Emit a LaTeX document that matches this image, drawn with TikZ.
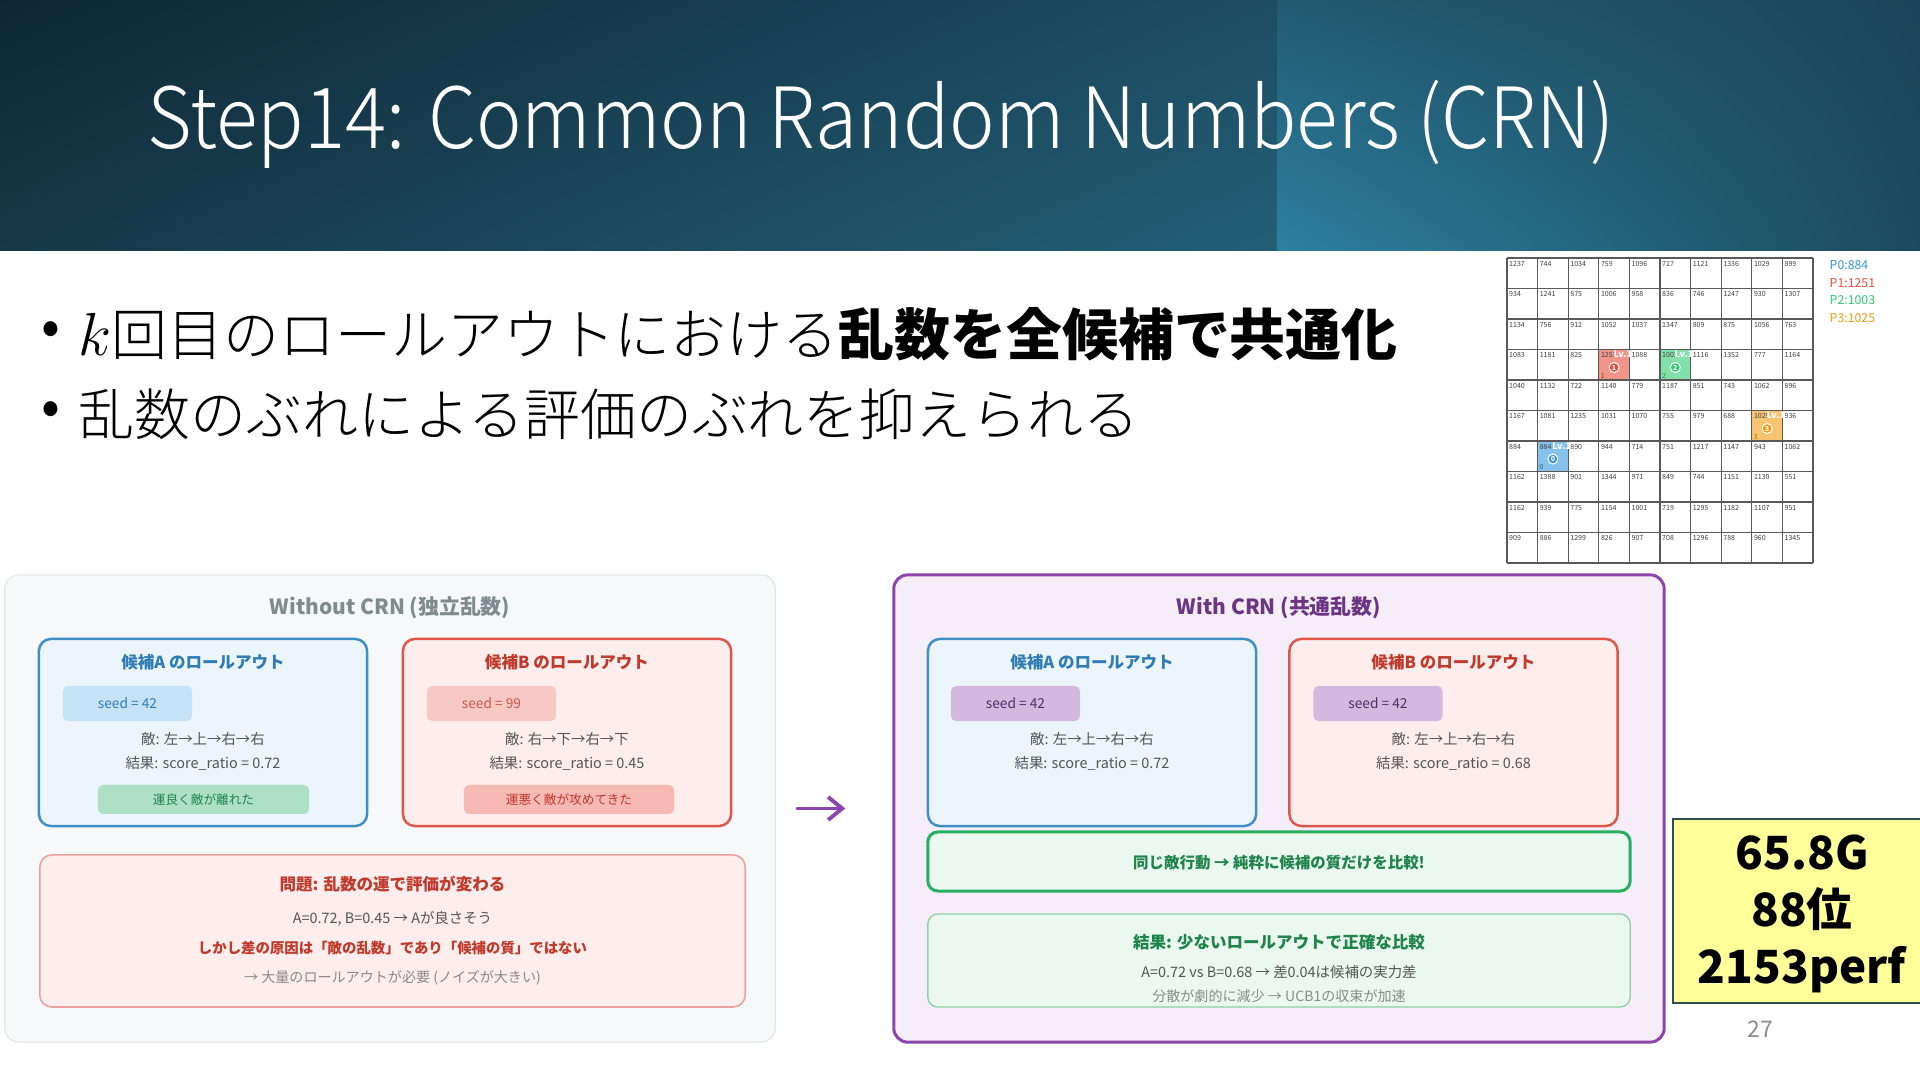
\documentclass[tikz,border=0pt]{standalone}
\usepackage{fontspec}
\setmainfont{Noto Sans CJK JP}
\IfFontExistsTF{Noto Sans CJK JP Light}
  {\newfontfamily\lightfont{Noto Sans CJK JP Light}
   \newfontfamily\titlefont[FakeStretch=0.91]{Noto Sans CJK JP Light}}
  {\newfontfamily\lightfont{Noto Sans CJK JP}
   \newfontfamily\titlefont[FakeStretch=0.91]{Noto Sans CJK JP}}
\usetikzlibrary{arrows.meta,positioning,shadings}
\definecolor{HeadTL}{HTML}{0E2735}
\definecolor{HeadBL}{HTML}{163848}
\definecolor{HeadTM}{HTML}{1D4D63}
\definecolor{HeadBM}{HTML}{235F78}
\definecolor{HeadRTL}{HTML}{235A72}
\definecolor{HeadRBL}{HTML}{2C81A1}
\definecolor{HeadRTR}{HTML}{1A4557}
\definecolor{HeadRBR}{HTML}{1C4A5D}
\definecolor{PanelGray}{HTML}{F6F8FA}
\definecolor{PanelEdge}{HTML}{E1E5E9}
\definecolor{PanelLilac}{HTML}{F5EEF8}
\definecolor{CrnPurple}{HTML}{8E44AD}
\definecolor{CrnPurpleDark}{HTML}{6C3483}
\definecolor{CandBlue}{HTML}{3D8FC6}
\definecolor{CandBlueText}{HTML}{2E7BB5}
\definecolor{CandBlueFill}{HTML}{EBF5FB}
\definecolor{CandRed}{HTML}{E0564A}
\definecolor{CandRedText}{HTML}{C0392B}
\definecolor{CandRedFill}{HTML}{FDEDEC}
\definecolor{SeedBlue}{HTML}{C6E2F6}
\definecolor{SeedRed}{HTML}{F8C9C4}
\definecolor{SeedLilac}{HTML}{D5B8E0}
\definecolor{LuckGreen}{HTML}{AEE0C6}
\definecolor{LuckRed}{HTML}{F6B9B3}
\definecolor{OkGreen}{HTML}{1E8449}
\definecolor{OkGreenEdge}{HTML}{27AE60}
\definecolor{OkGreenSoft}{HTML}{8FD0A8}
\definecolor{OkGreenFill}{HTML}{EAF8EF}
\definecolor{ProbEdge}{HTML}{EBA29B}
\definecolor{BodyGray}{HTML}{555555}
\definecolor{NoteGray}{HTML}{8A8A8A}
\definecolor{TitleGray}{HTML}{7F8C8D}
\definecolor{ScoreYellow}{HTML}{FFFF99}
\definecolor{ScoreEdge}{HTML}{2F4F4F}
\definecolor{PBlue}{HTML}{3498DB}
\definecolor{PRed}{HTML}{E74C3C}
\definecolor{PGreen}{HTML}{2ECC71}
\definecolor{POrange}{HTML}{F39C12}
\tikzset{
  panelbox/.style={rounded corners=0.14cm, minimum width=7.7cm, minimum height=4.67cm},
  candbox/.style={rounded corners=0.12cm, line width=0.7pt, minimum width=3.28cm, minimum height=1.87cm},
  seedbox/.style={rounded corners=0.05cm, minimum width=1.29cm, minimum height=0.35cm, inner sep=0pt,
    font=\fontsize{3.9}{4.5}\selectfont},
  pillbox/.style={rounded corners=0.05cm, minimum height=0.29cm, inner sep=0pt,
    font=\fontsize{3.6}{4.3}\selectfont},
  bodytext/.style={inner sep=0pt, text=BodyGray, font=\fontsize{4.1}{5}\selectfont},
  notetext/.style={inner sep=0pt, text=NoteGray, font=\fontsize{4.0}{5}\selectfont},
  boxtitle/.style={inner sep=0pt, font=\bfseries\fontsize{4.7}{5.6}\selectfont},
  paneltitle/.style={inner sep=0pt, font=\bfseries\fontsize{5.95}{7.1}\selectfont},
  gridnum/.style={anchor=north west, inner sep=0pt, text=black!75, font=\fontsize{2}{2.4}\selectfont},
  legend/.style={anchor=west, inner sep=0pt, font=\fontsize{3.5}{4.2}\selectfont},
}

\begin{document}
\begin{tikzpicture}[x=0.01cm, y=-0.01cm]
    \useasboundingbox (0,0) rectangle (1920,1080);
    \fill[white] (0,0) rectangle (1920,1080);
    % header band
    \shade[upper left=HeadTL, lower left=HeadBL, upper right=HeadTM, lower right=HeadBM]
        (0,0) rectangle (1277,251);
    \shade[upper left=HeadRTL, lower left=HeadRBL, upper right=HeadRTR, lower right=HeadRBR]
        (1277,0) rectangle (1920,251);
    \node[anchor=base west, inner sep=0pt, text=white, font=\titlefont\fontsize{24}{29}\selectfont]
        (title) at (147,149) {Step14: Common Random Numbers (CRN)};

    % bullets
    \node[inner sep=0pt, font=\fontsize{15.8}{19}\selectfont] (bulA) at (51,334) {•};
    \node[anchor=west, inner sep=0pt, font=\lightfont\fontsize{15.9}{19}\selectfont] (lineA) at (78,334)
        {$k$回目のロールアウトにおける{\rmfamily\bfseries 乱数を全候補で共通化}};
    \node[inner sep=0pt, font=\fontsize{15.8}{19}\selectfont] (bulB) at (51,414) {•};
    \node[anchor=west, inner sep=0pt, font=\lightfont\fontsize{15.9}{19}\selectfont] (lineB) at (78,414)
        {乱数のぶれによる評価のぶれを抑えられる};

    % board snapshot
    \foreach \c/\r/\col in {3/3/PRed, 5/3/PGreen, 8/5/POrange, 1/6/PBlue} {
        \fill[fill=\col!60] ({1507+30.6*\c},{258+30.5*\r}) rectangle ++(30.6,30.5);
    }
    \foreach \i in {0,...,10} {
        \draw[black!65, line width=0.3pt] ({1507+30.6*\i},258) -- ++(0,305);
        \draw[black!65, line width=0.3pt] (1507,{258+30.5*\i}) -- ++(306,0);
    }
    \foreach \r/\vals in {0/{1237,744,1034,759,1096,717,1121,1336,1029,899},
                          1/{934,1241,875,1006,958,836,746,1247,930,1307},
                          2/{1134,756,912,1052,1037,1347,809,875,1056,763},
                          3/{1083,1181,825,1251,1088,1003,1116,1352,777,1164},
                          4/{1040,1132,722,1140,779,1187,851,743,1062,896},
                          5/{1167,1081,1235,1031,1070,755,979,688,1025,936},
                          6/{884,884,890,944,714,751,1217,1147,943,1062},
                          7/{1162,1388,901,1344,971,849,744,1151,1130,551},
                          8/{1162,939,775,1154,1001,719,1295,1182,1107,951},
                          9/{909,886,1299,826,907,708,1296,788,960,1345}} {
        \foreach \v [count=\c from 0] in \vals {
            \node[gridnum] (n\r-\c) at ({1507+30.6*\c+1.5},{258+30.5*\r+2.5}) {\v};
        }
    }
    \foreach \c/\r/\p/\col in {3/3/1/PRed, 5/3/2/PGreen, 8/5/3/POrange, 1/6/0/PBlue} {
        \node[circle, fill=\col, draw=white, line width=0.3pt, inner sep=0pt, minimum size=0.1cm,
            text=white, font=\bfseries\fontsize{2}{2}\selectfont] (tok\p)
            at ({1507+30.6*\c+15.3},{258+30.5*\r+18}) {\p};
        \node[inner sep=0pt, text=white, font=\bfseries\fontsize{2.6}{3}\selectfont] (lv\p)
            at ({1507+30.6*\c+24},{258+30.5*\r+5}) {Lv.1};
        \node[inner sep=0pt, text=\col!70!black, font=\fontsize{2}{2}\selectfont] (own\p)
            at ({1507+30.6*\c+4},{258+30.5*\r+26.5}) {\p};
    }
    \node[legend, text=PBlue] (leg0) at (1829,265) {P0:884};
    \node[legend, text=PRed] (leg1) at (1829,283) {P1:1251};
    \node[legend, text=PGreen] (leg2) at (1829,300) {P2:1003};
    \node[legend, text=POrange] (leg3) at (1829,318) {P3:1025};

    % without CRN
    \node[panelbox, fill=PanelGray, draw=PanelEdge, line width=0.3pt] (wo) at (390,808.5) {};
    \node[paneltitle, text=TitleGray] (woTitle) at (390,608) {Without CRN (独立乱数)};
    \node[candbox, fill=CandBlueFill, draw=CandBlue] (woA) at (203,732.5) {};
    \node[boxtitle, text=CandBlueText] (woAtitle) at (203,662) {候補A のロールアウト};
    \node[seedbox, fill=SeedBlue, text=CandBlueText] (woAseed) at (127.5,703.5) {seed = 42};
    \node[bodytext] (woAenemy) at (203,739) {敵: 左→上→右→右};
    \node[bodytext] (woAscore) at (203,763) {結果: score\_ratio = 0.72};
    \node[pillbox, fill=LuckGreen, text=OkGreen, minimum width=2.11cm] (woAluck) at (203.5,799.5) {運良く敵が離れた};
    \node[candbox, fill=CandRedFill, draw=CandRed] (woB) at (567,732.5) {};
    \node[boxtitle, text=CandRedText] (woBtitle) at (567,662) {候補B のロールアウト};
    \node[seedbox, fill=SeedRed, text=CandRedText!85] (woBseed) at (491.5,703.5) {seed = 99};
    \node[bodytext] (woBenemy) at (567,739) {敵: 右→下→右→下};
    \node[bodytext] (woBscore) at (567,763) {結果: score\_ratio = 0.45};
    \node[pillbox, fill=LuckRed, text=CandRedText, minimum width=2.1cm] (woBluck) at (569,799.5) {運悪く敵が攻めてきた};
    \node[rounded corners=0.12cm, fill=CandRedFill, draw=ProbEdge, line width=0.45pt,
        minimum width=7.05cm, minimum height=1.52cm] (woProb) at (392.5,931) {};
    \node[boxtitle, text=CandRedText] (woProbTitle) at (392.5,884) {問題: 乱数の運で評価が変わる};
    \node[bodytext] (woProbA) at (392.5,919) {A=0.72, B=0.45 → Aが良さそう};
    \node[bodytext, text=CandRedText, font=\bfseries\fontsize{4.1}{5}\selectfont] (woProbB) at (392.5,948)
        {しかし差の原因は「敵の乱数」であり「候補の質」ではない};
    \node[notetext] (woProbC) at (392.5,978) {→ 大量のロールアウトが必要 (ノイズが大きい)};

    % with CRN
    \node[panelbox, fill=PanelLilac, draw=CrnPurple, line width=0.85pt] (wi) at (1279,808.5) {};
    \node[paneltitle, text=CrnPurpleDark] (wiTitle) at (1279,608) {With CRN (共通乱数)};
    \node[candbox, fill=CandBlueFill, draw=CandBlue] (wiA) at (1092,732.5) {};
    \node[boxtitle, text=CandBlueText] (wiAtitle) at (1092,662) {候補A のロールアウト};
    \node[seedbox, fill=SeedLilac, text=CrnPurpleDark!80!black] (wiAseed) at (1015.5,703.5) {seed = 42};
    \node[bodytext] (wiAenemy) at (1092,739) {敵: 左→上→右→右};
    \node[bodytext] (wiAscore) at (1092,763) {結果: score\_ratio = 0.72};
    \node[candbox, fill=CandRedFill, draw=CandRed] (wiB) at (1453.5,732.5) {};
    \node[boxtitle, text=CandRedText] (wiBtitle) at (1453.5,662) {候補B のロールアウト};
    \node[seedbox, fill=SeedLilac, text=CrnPurpleDark!80!black] (wiBseed) at (1378,703.5) {seed = 42};
    \node[bodytext] (wiBenemy) at (1453.5,739) {敵: 左→上→右→右};
    \node[bodytext] (wiBscore) at (1453.5,763) {結果: score\_ratio = 0.68};
    \node[rounded corners=0.1cm, fill=OkGreenFill, draw=OkGreenEdge, line width=0.85pt,
        minimum width=7.02cm, minimum height=0.59cm] (wiSame) at (1279,861.5) {};
    \node[boxtitle, text=OkGreen, font=\bfseries\fontsize{4.4}{5.2}\selectfont] (wiSameText) at (1279,863)
        {同じ敵行動 → 純粋に候補の質だけを比較!};
    \node[rounded corners=0.1cm, fill=OkGreenFill, draw=OkGreenSoft, line width=0.4pt,
        minimum width=7.02cm, minimum height=0.93cm] (wiRes) at (1279,960.5) {};
    \node[boxtitle, text=OkGreen] (wiResTitle) at (1279,942) {結果: 少ないロールアウトで正確な比較};
    \node[bodytext] (wiResA) at (1279,972) {A=0.72 vs B=0.68 → 差0.04は候補の実力差};
    \node[notetext] (wiResB) at (1279,996) {分散が劇的に減少 → UCB1の収束が加速};

    % the step from one panel to the other
    \draw[CrnPurple, line width=1.1pt, line cap=round, -{Straight Barb[length=4pt, width=6.5pt]},
        shorten <=0.22cm, shorten >=0.47cm] (wo.east) -- (wi.west);

    % score tag
    \node[fill=ScoreYellow, draw=ScoreEdge, line width=0.45pt, minimum width=2.6cm, minimum height=1.84cm,
        inner sep=0pt] (score) at (1803,911) {};
    \node[align=center, inner sep=0pt, font=\bfseries\fontsize{13}{16.2}\selectfont] (scoreText)
        at (1802,914) {65.8G\\88位\\2153perf};
    \node[inner sep=0pt, text=black!45, font=\fontsize{6.5}{7.5}\selectfont] (pgno) at (1760,1029) {27};
\end{tikzpicture}
\end{document}
